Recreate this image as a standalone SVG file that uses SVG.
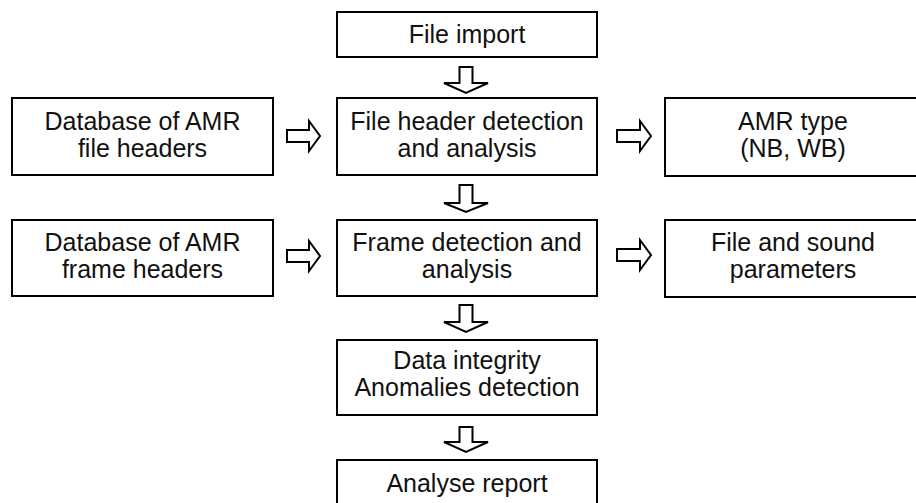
<svg xmlns="http://www.w3.org/2000/svg" width="916" height="503" viewBox="0 0 916 503">
<style>
.box{fill:#fff;stroke:#000;stroke-width:2}
.arr{fill:#fff;stroke:#000;stroke-width:2;stroke-linejoin:miter}
text{font-family:"Liberation Sans",Arial,sans-serif;font-size:25px;fill:#111;text-anchor:middle}
</style>
<rect width="916" height="503" fill="#fff"/>
<g id="connectors">
<path class="arr" d="M459.5,67 H472.5 V83 H488 L466,93 L444,83 H459.5 Z"/>
<path class="arr" d="M459.5,185 H472.5 V203 H488 L466,212 L444,203 H459.5 Z"/>
<path class="arr" d="M459.5,305 H472.5 V322 H488 L466,332 L444,322 H459.5 Z"/>
<path class="arr" d="M459.5,427 H472.5 V442 H488 L466,452 L444,442 H459.5 Z"/>
<path class="arr" d="M287,130 H309 V121 L320,136 L309,151 V142 H287 Z"/>
<path class="arr" d="M617,130 H640 V121 L651,136 L640,151 V142 H617 Z"/>
<path class="arr" d="M287,250 H309 V241 L320,256 L309,271 V262 H287 Z"/>
<path class="arr" d="M617,249 H640 V240 L651,255 L640,270 V261 H617 Z"/>
</g>
<g id="file-import">
<rect class="box" x="337" y="12" width="260" height="45"/>
<text x="467" y="43">File import</text>
</g>
<g id="db-file-headers">
<rect class="box" x="12" y="98" width="261" height="77"/>
<text x="142.5" y="130">Database of AMR</text>
<text x="142.5" y="157">file headers</text>
</g>
<g id="file-header-detection">
<rect class="box" x="337" y="98" width="260" height="77"/>
<text x="467" y="130">File header detection</text>
<text x="467" y="157">and analysis</text>
</g>
<g id="amr-type">
<rect class="box" x="665" y="98" width="260" height="78"/>
<text x="793" y="130">AMR type</text>
<text x="793" y="157">(NB, WB)</text>
</g>
<g id="db-frame-headers">
<rect class="box" x="12" y="220" width="261" height="76"/>
<text x="142.5" y="251">Database of AMR</text>
<text x="142.5" y="278">frame headers</text>
</g>
<g id="frame-detection">
<rect class="box" x="337" y="220" width="260" height="76"/>
<text x="467" y="251">Frame detection and</text>
<text x="467" y="278">analysis</text>
</g>
<g id="file-sound-params">
<rect class="box" x="665" y="220" width="260" height="77"/>
<text x="793" y="251">File and sound</text>
<text x="793" y="278">parameters</text>
</g>
<g id="data-integrity">
<rect class="box" x="337" y="340" width="260" height="75"/>
<text x="467" y="369">Data integrity</text>
<text x="467" y="396">Anomalies detection</text>
</g>
<g id="analyse-report">
<rect class="box" x="337" y="460" width="260" height="60"/>
<text x="467" y="492">Analyse report</text>
</g>
</svg>
